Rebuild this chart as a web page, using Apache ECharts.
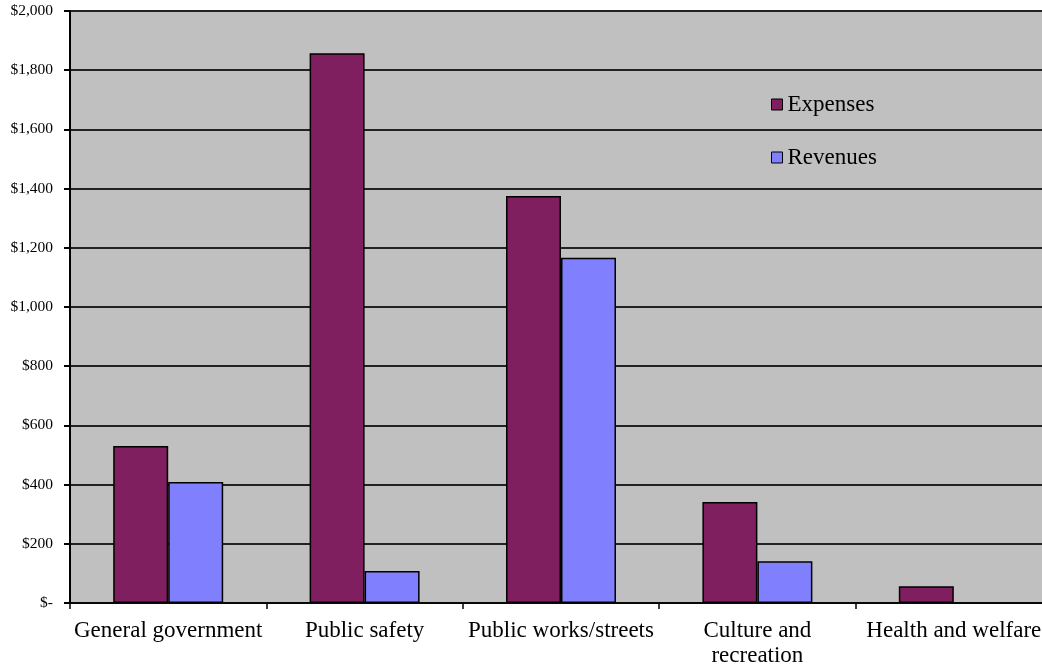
<!DOCTYPE html>
<html>
<head>
<meta charset="utf-8">
<script src="https://cdn.jsdelivr.net/npm/echarts@6/dist/echarts.min.js"></script>
<style>html,body{margin:0;padding:0;background:#fff;}#c{width:1042px;height:670px;}</style>
</head>
<body>
<div id="c"></div>
<script>
const categories = ['General government', 'Public safety', 'Public works/streets', 'Culture and\nrecreation', 'Health and welfare'];
const expenses = [530, 1857, 1375, 341, 57];
const revenues = [409, 108, 1166, 141, null];
const yTicks = [0, 200, 400, 600, 800, 1000, 1200, 1400, 1600, 1800, 2000];

function fmt(v) {
  if (v === 0) return '$-';
  return '$' + v.toLocaleString('en-US');
}

const chart = echarts.init(document.getElementById('c'));
chart.setOption({
  animation: false,
  textStyle: { fontFamily: 'Liberation Serif' },
  grid: { left: 70, top: 11, right: -10, bottom: 67, show: true, backgroundColor: '#C0C0C0', borderWidth: 0,
          containLabel: false, outerBoundsMode: 'none' },
  legend: {
    orient: 'vertical', left: 766, top: 88, itemGap: 30, itemWidth: 11, itemHeight: 11,
    icon: 'rect',
    itemStyle: { borderColor: '#000', borderWidth: 1 },
    textStyle: { fontFamily: 'Liberation Serif', fontSize: 23, color: '#000', padding: [0, 0, 0, 0] },
    data: ['Expenses', 'Revenues']
  },
  xAxis: {
    type: 'category', data: categories,
    axisLine: { lineStyle: { color: '#000', width: 1.5 } },
    axisTick: { show: true, length: 6, lineStyle: { color: '#000', width: 1.5 } },
    axisLabel: { color: '#000', fontSize: 23, margin: 15, interval: 0, fontFamily: 'Liberation Serif', lineHeight: 25 }
  },
  yAxis: {
    type: 'value', min: 0, max: 2000, interval: 200,
    axisLine: { show: true, lineStyle: { color: '#000', width: 2 } },
    axisTick: { show: true, length: 6, lineStyle: { color: '#000', width: 2 } },
    splitLine: { show: true, lineStyle: { color: '#222', width: 2 } },
    axisLabel: { color: '#000', fontSize: 15.5, margin: 17, fontFamily: 'Liberation Serif', formatter: fmt }
  },
  series: [
    { name: 'Expenses', type: 'bar', data: expenses, barWidth: '28%', barGap: '0%',
      itemStyle: { color: '#801F5F', borderColor: '#000', borderWidth: 1.5 } },
    { name: 'Revenues', type: 'bar', data: revenues, barWidth: '28%', barGap: '0%',
      itemStyle: { color: '#8080FF', borderColor: '#000', borderWidth: 1.5 } }
  ]
});
</script>
</body>
</html>
